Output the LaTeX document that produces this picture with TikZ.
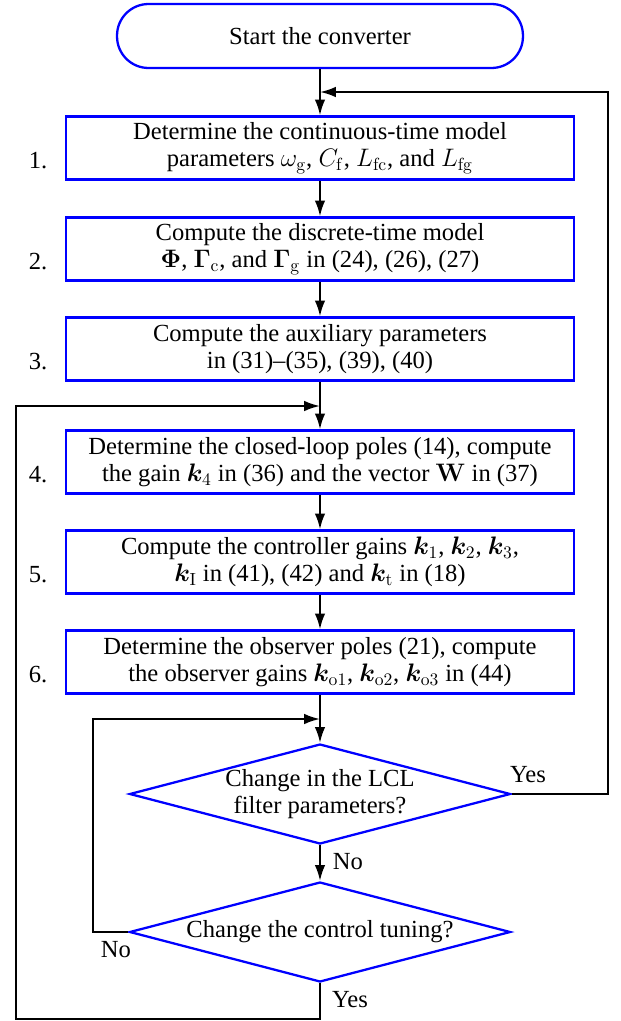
\documentclass[tikz,border=0pt]{standalone}
\usepackage[no-math]{fontspec}
\setmainfont{Liberation Serif}
\usepackage{amsmath}
\usepackage{bm}
\usetikzlibrary{shapes.geometric,arrows.meta}

\begin{document}
\begin{tikzpicture}[x=0.02cm, y=-0.02cm,
        font=\fontsize{14}{15.5}\selectfont,
        stepbox/.style={draw=blue, line width=1.3pt, align=center,
            minimum width=10.16cm, minimum height=1.26cm, inner sep=2pt},
        startbox/.style={draw=blue, line width=1.3pt, rounded corners=0.63cm,
            minimum width=8.12cm, minimum height=1.28cm},
        choice/.style={draw=blue, line width=1.3pt, diamond, align=center,
            aspect=3.8, inner sep=0pt, minimum width=7.62cm, minimum height=2cm},
        flow/.style={line width=1.2pt, -{Latex[length=9pt,width=6pt]}}]

        \useasboundingbox (0,0) rectangle (621,1021);

        % Start of the flow
        \node[startbox] (start) at (320,36) {Start the converter};

        % Design steps
        \node[stepbox] (b1) at (320,148) {Determine the continuous-time model\\
            parameters $\omega_{\mathrm{g}}$, $C_{\mathrm{f}}$, $L_{\mathrm{fc}}$, and $L_{\mathrm{fg}}$};
        \node[stepbox] (b2) at (320,249) {Compute the discrete-time model\\
            $\mathbf{\Phi}$, $\mathbf{\Gamma}_{\mathrm{c}}$, and $\mathbf{\Gamma}_{\mathrm{g}}$ in (24), (26), (27)};
        \node[stepbox] (b3) at (320,349) {Compute the auxiliary parameters\\
            in (31)--(35), (39), (40)};
        \node[stepbox] (b4) at (320,462) {Determine the closed-loop poles (14), compute\\
            the gain $\bm{k}_4$ in (36) and the vector $\mathbf{W}$ in (37)};
        \node[stepbox] (b5) at (320,562) {Compute the controller gains $\bm{k}_1$, $\bm{k}_2$, $\bm{k}_3$,\\
            $\bm{k}_{\mathrm{I}}$ in (41), (42) and $\bm{k}_{\mathrm{t}}$ in (18)};
        \node[stepbox] (b6) at (320,662) {Determine the observer poles (21), compute\\
            the observer gains $\bm{k}_{\mathrm{o}1}$, $\bm{k}_{\mathrm{o}2}$, $\bm{k}_{\mathrm{o}3}$ in (44)};

        % Step numbers
        \node (n1) at (38,161) {1.};
        \node (n2) at (38,262) {2.};
        \node (n3) at (38,362) {3.};
        \node (n4) at (38,475) {4.};
        \node (n5) at (38,575) {5.};
        \node (n6) at (38,675) {6.};

        % Decisions
        \node[choice] (d1) at (320,794) {Change in the LCL\\ filter parameters?};
        \node[choice] (d2) at (320,932) {Change the control tuning?};

        % Branch labels
        \node (ly1) at (528,775) {Yes};
        \node (ln1) at (348,862) {No};
        \node (ln2) at (116,950) {No};
        \node (ly2) at (350,1000) {Yes};

        % Junctions and corners
        \coordinate (j1) at (320,92);
        \coordinate (j2) at (320,406);
        \coordinate (j3) at (320,719);
        \coordinate (r1) at (608,92);
        \coordinate (c1) at (16,1019);
        \coordinate (c2) at (93,719);

        % Main flow
        \draw[flow] (start) -- (b1);
        \draw[flow] (b1) -- (b2);
        \draw[flow] (b2) -- (b3);
        \draw[flow] (b3) -- (b4);
        \draw[flow] (b4) -- (b5);
        \draw[flow] (b5) -- (b6);
        \draw[flow] (b6) -- (d1);
        \draw[flow] (d1) -- (d2);

        % Feedback loops
        \draw[flow] (d1.east) -| (r1) -- (j1);
        \draw[flow] (d2.west) -| (c2) -- (j3);
        \draw[flow] (d2.south) |- (c1) |- (j2);

    \end{tikzpicture}
\end{document}
